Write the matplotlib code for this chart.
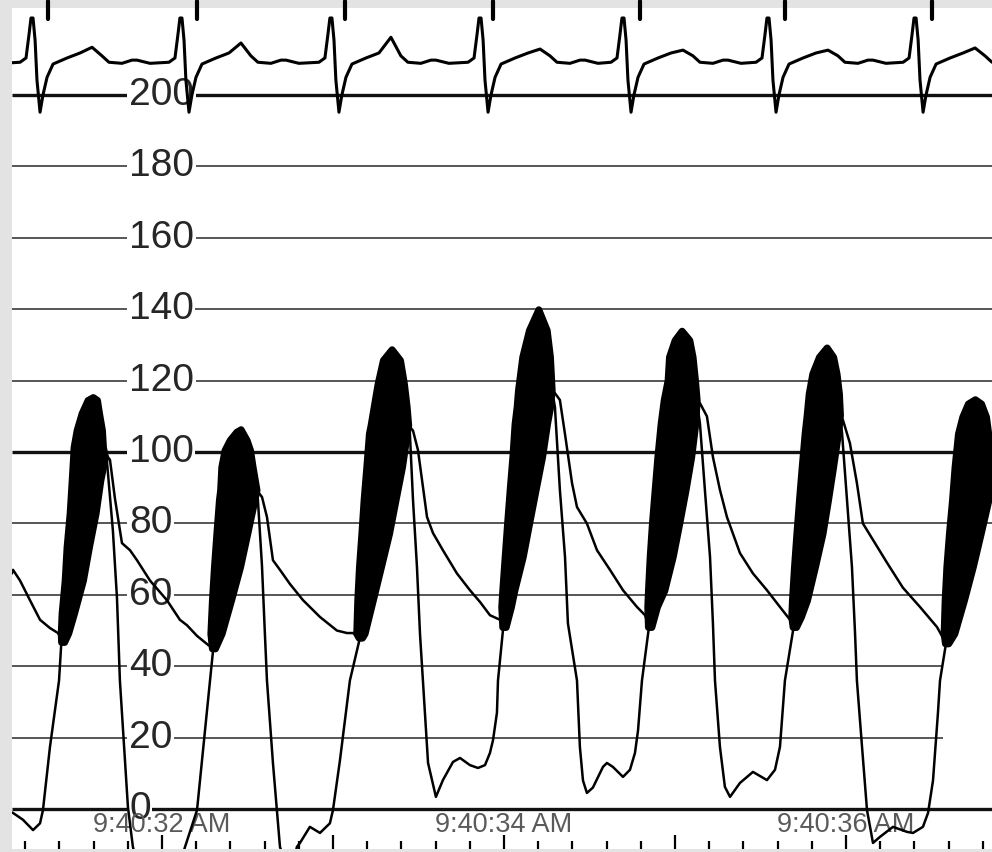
import matplotlib
matplotlib.use('Agg')
import matplotlib.pyplot as plt
from matplotlib.ticker import MultipleLocator

plt.rcParams['font.family'] = ['Liberation Sans', 'DejaVu Sans']

# time in seconds after 9:40:32 AM, pressure in mmHg
grid_levels = [0, 20, 40, 60, 80, 100, 120, 140, 160, 180, 200]
heavy_levels = [0, 100, 200]
short_levels = [20, 40, 60]      # these stop where the last upstroke is
short_end = 4.57
time_ticks = [0, 2, 4]
time_labels = ['9:40:32 AM', '9:40:34 AM', '9:40:36 AM']

# ECG complex: offset from R wave (s) and level on the pressure scale
ecg_offset = [-0.070, -0.035, -0.018, -0.006, 0.006, 0.018, 0.029, 0.047, 0.064,
              0.088, 0.123, 0.205, 0.281, 0.351, 0.409, 0.450, 0.526, 0.585,
              0.614, 0.690]
ecg_level = [209.2, 210.4, 216.8, 221.6, 221.6, 215.4, 204.2, 195.2, 200.0,
             205.0, 208.7, 210.4, 211.8, None, 211.0, 209.2, 208.9, 209.8,
             209.8, 208.9]
r_times = [-0.760, 0.111, 0.988, 1.860, 2.696, 3.544, 4.404]
t_wave = [213.4, 214.6, 216.2, 212.9, 212.6, 212.6, 213.2]
pace_times = [-0.667, 0.205, 1.070, 1.936, 2.795, 3.643, 4.503]

# aortic pressure (thin trace)
aortic_t = [-0.877, -0.871, -0.830, -0.772, -0.713, -0.655, -0.608, -0.588,
            -0.333, -0.322, -0.304, -0.275, -0.234, -0.187, -0.146, -0.070, 0.029,
            0.105, 0.146, 0.205, 0.269, 0.300,
            0.553, 0.585, 0.614, 0.649, 0.690, 0.749, 0.825, 0.924, 1.023, 1.082,
            1.117, 1.158,
            1.440, 1.468, 1.497, 1.550, 1.585, 1.643, 1.725, 1.801, 1.860, 1.918,
            1.977, 1.996,
            2.281, 2.298, 2.327, 2.357, 2.398, 2.427, 2.485, 2.544, 2.620, 2.696,
            2.778, 2.825, 2.848,
            3.127, 3.146, 3.187, 3.222, 3.263, 3.304, 3.380, 3.456, 3.538, 3.614,
            3.673, 3.694,
            3.965, 3.982, 4.023, 4.064, 4.099, 4.158, 4.240, 4.333, 4.433, 4.532,
            4.567, 4.585,
            4.862, 4.900]
aortic_p = [66.1, 67.0, 64.0, 58.5, 53.0, 50.7, 49.3, 47.5,
            99.0, 99.0, 97.8, 87.0, 74.5, 72.5, 69.7, 64.0, 58.5,
            53.0, 51.5, 48.5, 46.0, 45.0,
            89.4, 87.4, 81.8, 69.7, 67.0, 63.0, 58.5, 53.8, 50.0, 49.3,
            49.3, 48.0,
            107.6, 106.0, 100.6, 81.8, 77.3, 72.5, 66.0, 61.3, 58.0, 54.3,
            53.0, 51.0,
            117.4, 116.5, 114.6, 105.0, 91.3, 84.6, 80.0, 72.5, 67.0, 61.3,
            56.6, 54.3, 51.0,
            114.6, 113.7, 110.0, 98.6, 89.4, 81.8, 71.7, 66.0, 61.3, 56.6,
            53.0, 51.0,
            110.4, 109.0, 102.5, 91.3, 80.0, 75.4, 69.0, 62.0, 56.6, 51.0,
            48.0, 46.4,
            96.0, 88.0]

# left ventricular pressure (thin trace)
lv_t = [-0.877, -0.871, -0.813, -0.754, -0.713, -0.696, -0.655, -0.602, -0.588,
        -0.333, -0.322, -0.287, -0.263, -0.246, -0.199, -0.170, -0.140, 0.100,
        0.135, 0.205, 0.281, 0.300,
        0.553, 0.561, 0.585, 0.602, 0.614, 0.649, 0.690, 0.720, 0.770, 0.789,
        0.807, 0.865, 0.924, 0.982, 1.000, 1.041, 1.099, 1.158,
        1.440, 1.450, 1.468, 1.491, 1.509, 1.526, 1.556, 1.602, 1.643, 1.702,
        1.743, 1.801, 1.848, 1.889, 1.918, 1.936, 1.959, 1.965, 1.996,
        2.281, 2.298, 2.327, 2.357, 2.374, 2.427, 2.444, 2.462, 2.485, 2.520,
        2.579, 2.602, 2.637, 2.696, 2.737, 2.766, 2.784, 2.807, 2.848,
        3.127, 3.146, 3.175, 3.205, 3.222, 3.234, 3.263, 3.292, 3.322, 3.380,
        3.456, 3.538, 3.585, 3.614, 3.643, 3.694,
        3.965, 3.977, 4.006, 4.035, 4.053, 4.064, 4.094, 4.123, 4.158, 4.199,
        4.275, 4.357, 4.392, 4.450, 4.480, 4.509, 4.538, 4.550, 4.585,
        4.862, 4.890]
lv_p = [-1.0, -1.1, -3.0, -5.9, -4.0, -0.3, 17.4, 36.0, 47.0,
        99.0, 97.5, 78.0, 59.0, 36.0, 0.5, -10.6, -16.0, -16.0,
        -10.6, -0.3, 36.0, 45.0,
        89.4, 86.6, 68.0, 49.0, 36.0, 12.9, -10.6, -15.0, -15.0, -10.6,
        -9.5, -5.0, -6.7, -4.0, -0.3, 13.7, 36.0, 48.0,
        107.6, 105.0, 86.6, 68.0, 49.0, 36.0, 12.9, 3.4, 8.1, 13.2,
        14.3, 12.3, 11.5, 12.3, 15.7, 19.3, 27.0, 36.0, 51.0,
        117.4, 112.6, 89.4, 70.6, 52.0, 36.0, 17.4, 8.0, 4.5, 6.0,
        11.8, 12.9, 11.8, 9.0, 11.0, 15.7, 22.0, 36.0, 51.0,
        114.6, 108.0, 89.4, 70.6, 52.0, 36.0, 17.4, 6.2, 3.4, 7.3,
        10.4, 8.1, 11.0, 17.4, 36.0, 51.0,
        110.4, 105.3, 86.6, 67.8, 49.3, 36.0, 17.4, -0.3, -9.5, -7.8,
        -5.0, -6.4, -6.7, -5.0, -1.1, 8.0, 27.0, 36.0, 46.4,
        96.0, 80.0]

# black ejection bands, one per beat: pressure level, left edge, right edge
band_p = [
    [46.8, 49.3, 54.9, 64.1, 73.4, 82.9, 92.2, 98.6, 101.4, 106.2, 110.9, 114.6, 115.4],
    [45.0, 49.2, 58.5, 67.9, 77.2, 86.6, 89.4, 95.9, 100.6, 103.4, 105.7, 106.4],
    [48.0, 49.2, 58.5, 67.9, 77.2, 86.6, 95.9, 105.2, 107.6, 112.7, 119.2, 125.8, 128.8],
    [51.0, 56.7, 61.3, 70.7, 80.0, 89.4, 98.7, 108.0, 112.7, 117.4, 126.7, 134.2, 140.0],
    [51.0, 56.7, 61.3, 70.7, 80.0, 89.4, 98.7, 108.0, 114.6, 120.2, 126.7, 131.4, 134.0],
    [51.0, 53.9, 58.5, 67.9, 77.2, 86.6, 95.9, 105.2, 110.4, 116.4, 122.0, 126.7, 129.3],
    [46.4, 49.2, 58.5, 67.9, 77.2, 86.6, 95.9, 105.2, 109.9, 113.6, 114.8],
]
band_left = [
    [-0.590, -0.592, -0.587, -0.569, -0.558, -0.540, -0.528, -0.520, -0.517, -0.499, -0.470, -0.435, -0.404],
    [0.292, 0.283, 0.292, 0.304, 0.318, 0.333, 0.340, 0.347, 0.366, 0.396, 0.435, 0.460],
    [1.150, 1.136, 1.142, 1.152, 1.166, 1.179, 1.195, 1.210, 1.220, 1.238, 1.261, 1.292, 1.343],
    [1.990, 1.984, 1.990, 2.004, 2.018, 2.033, 2.049, 2.062, 2.074, 2.082, 2.107, 2.146, 2.201],
    [2.842, 2.838, 2.842, 2.852, 2.865, 2.881, 2.897, 2.916, 2.934, 2.957, 2.965, 2.998, 3.039],
    [3.688, 3.680, 3.684, 3.696, 3.710, 3.725, 3.741, 3.758, 3.770, 3.782, 3.803, 3.842, 3.887],
    [4.579, 4.571, 4.577, 4.587, 4.602, 4.620, 4.635, 4.655, 4.680, 4.713, 4.754],
]
band_right = [
    [-0.572, -0.548, -0.514, -0.462, -0.427, -0.388, -0.360, -0.333, -0.345, -0.351, -0.368, -0.380, -0.404],
    [0.310, 0.349, 0.404, 0.457, 0.499, 0.541, 0.553, 0.530, 0.515, 0.495, 0.468, 0.460],
    [1.170, 1.185, 1.233, 1.281, 1.328, 1.366, 1.404, 1.432, 1.440, 1.431, 1.415, 1.392, 1.343],
    [2.010, 2.041, 2.061, 2.110, 2.147, 2.185, 2.223, 2.252, 2.270, 2.279, 2.269, 2.250, 2.201],
    [2.862, 2.895, 2.938, 2.987, 3.025, 3.062, 3.095, 3.119, 3.127, 3.117, 3.103, 3.084, 3.039],
    [3.708, 3.737, 3.772, 3.819, 3.863, 3.895, 3.925, 3.953, 3.965, 3.959, 3.945, 3.925, 3.887],
    [4.598, 4.634, 4.690, 4.742, 4.788, 4.833, 4.860, 4.832, 4.819, 4.790, 4.754],
]

# build the ECG line from the complex and the beat times
ecg_t, ecg_p = [-0.90], [209.0]
for r, tw in zip(r_times, t_wave):
    for off, lev in zip(ecg_offset, ecg_level):
        ecg_t.append(r + off)
        ecg_p.append(tw if lev is None else lev)

fig = plt.figure(figsize=(9.92, 8.52), dpi=100, facecolor='#e3e3e3')
ax = fig.add_axes([12 / 992, 3 / 852, 980 / 992, 841 / 852])
ax.set_facecolor('white')
ax.set_xlim(-0.877, 4.854)
ax.set_ylim(-11.2, 224.4)

for lev in grid_levels:
    heavy = lev in heavy_levels
    xmax = short_end if lev in short_levels else 4.854
    ax.hlines(lev, -0.877, xmax, colors='#111111' if heavy else '#3a3a3a',
              linewidth=2.4 if heavy else 1.2, zorder=1)
    ax.text(0.1194, lev, str(lev), transform=ax.get_yaxis_transform(),
            ha='left', va='center', fontsize=28, color='#262626', zorder=2,
            bbox=dict(facecolor='white', edgecolor='none', pad=1.0))

for t, lab in zip(time_ticks, time_labels):
    ax.text(t, -4.6, lab, ha='center', va='center', fontsize=19.5,
            color='#5a5a5a', zorder=2)

ax.plot(aortic_t, aortic_p, color='black', linewidth=1.8, zorder=3,
        solid_joinstyle='round')
ax.plot(lv_t, lv_p, color='black', linewidth=1.8, zorder=3,
        solid_joinstyle='round')
for p, left, right in zip(band_p, band_left, band_right):
    band = ax.fill_betweenx(p, left, right, facecolor='black', edgecolor='black',
                            linewidth=5.0, zorder=4)
    band.set_joinstyle('round')

ax.plot(ecg_t, ecg_p, color='black', linewidth=2.2, zorder=3,
        solid_joinstyle='round')
for t in pace_times:
    ax.plot([t, t], [226.5, 221.2], color='black', linewidth=3,
            solid_capstyle='round', clip_on=False, zorder=5)

ax.xaxis.set_major_locator(MultipleLocator(1.0))
ax.xaxis.set_minor_locator(MultipleLocator(0.2))
ax.tick_params(axis='x', which='major', direction='in', length=10, width=1.6,
               color='black', labelbottom=False)
ax.tick_params(axis='x', which='minor', direction='in', length=5.5, width=1.6,
               color='black')
ax.set_yticks([])
for side in ['left', 'right', 'top', 'bottom']:
    ax.spines[side].set_visible(False)

fig.savefig('out.png', dpi=100, facecolor=fig.get_facecolor())
